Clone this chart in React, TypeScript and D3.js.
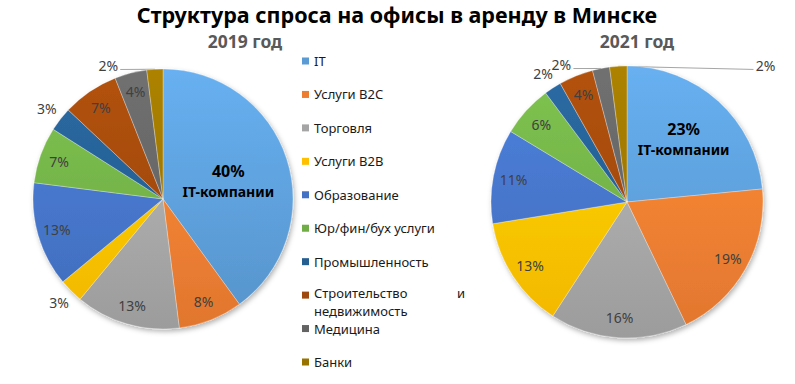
import * as d3 from "d3";

const categories = [
  "IT",
  "Услуги B2C",
  "Торговля",
  "Услуги B2B",
  "Образование",
  "Юр/фин/бух услуги",
  "Промышленность",
  "Строительство и недвижимость",
  "Медицина",
  "Банки",
];
const share2019 = [40, 8, 13, 3, 13, 7, 3, 7, 4, 2];
const share2021 = [23, 19, 16, 13, 11, 6, 2, 4, 2, 2];
const colors = [
  "#5B9BD5", "#ED7D31", "#A5A5A5", "#FFC000", "#4472C4",
  "#70AD47", "#255E91", "#9E480E", "#636363", "#997300",
];

const W = 795;
const H = 384;
const FONT = "'Noto Sans', 'Open Sans', sans-serif";

type LabelMode = "main" | "in" | "out" | "lead";
type PieCfg = {
  id: string;
  year: string;
  values: number[];
  cx: number;
  cy: number;
  r: number;
  modes: LabelMode[];
  mainR: number;
  mainAngle?: number;
  // for leader labels: [angle deg, radius factor]
  lead: Record<number, [number, number]>;
  titleX: number;
};

const pies: PieCfg[] = [
  {
    id: "a",
    year: "2019 год",
    values: share2019,
    cx: 163,
    cy: 199,
    r: 130,
    modes: ["main", "in", "in", "out", "in", "in", "out", "in", "in", "lead"],
    mainR: 0.52,
    mainAngle: 75,
    lead: { 9: [337.7, 1.11] },
    titleX: 245,
  },
  {
    id: "b",
    year: "2021 год",
    values: share2021,
    cx: 627,
    cy: 202,
    r: 136,
    modes: ["main", "in", "in", "in", "in", "in", "out", "in", "lead", "lead"],
    mainR: 0.62,
    lead: { 8: [334.5, 1.12], 9: [45.4, 1.43] },
    titleX: 637,
  },
];

const polar = (cx: number, cy: number, deg: number, rad: number): [number, number] => {
  const a = (deg * Math.PI) / 180;
  return [cx + rad * Math.sin(a), cy - rad * Math.cos(a)];
};

function Pie({ cfg }: { cfg: PieCfg }) {
  const arcs = d3.pie<number>().sort(null)(cfg.values);
  const arc = d3.arc<d3.PieArcDatum<number>>().innerRadius(0).outerRadius(cfg.r);
  const deg = (a: number) => (a * 180) / Math.PI;

  return (
    <g>
      <defs>
        {colors.map((c, i) => {
          const top = d3.color(c)!.brighter(0.35).formatHex();
          const bot = d3.color(c)!.darker(0.15).formatHex();
          return (
            <linearGradient
              key={i}
              id={`grad-${cfg.id}-${i}`}
              gradientUnits="userSpaceOnUse"
              x1={0}
              y1={-cfg.r}
              x2={0}
              y2={cfg.r}
            >
              <stop offset="0" stopColor={top} />
              <stop offset="1" stopColor={bot} />
            </linearGradient>
          );
        })}
      </defs>
      <text
        x={cfg.titleX}
        y={40.5}
        textAnchor="middle"
        dominantBaseline="central"
        fontFamily={FONT}
        fontWeight="bold"
        fontSize={17.5}
        fill="#595959"
      >
        {cfg.year}
      </text>
      {/* leader lines, under the slices */}
      {arcs.map((a, i) => {
        if (cfg.modes[i] !== "lead") return null;
        const mid = deg((a.startAngle + a.endAngle) / 2);
        const [ang, f] = cfg.lead[i];
        const [lx, ly] = polar(cfg.cx, cfg.cy, ang, f * cfg.r);
        const [px, py] = polar(cfg.cx, cfg.cy, mid, cfg.r);
        const ex = lx < px ? lx + 12 : lx - 12;
        return (
          <line key={i} x1={ex} y1={ly + 4} x2={px} y2={py} stroke="#a6a6a6" strokeWidth={1} />
        );
      })}
      <g filter="url(#shadow)">
        <g transform={`translate(${cfg.cx},${cfg.cy})`}>
          {arcs.map((a, i) => (
            <path
              key={i}
              d={arc(a) ?? ""}
              fill={`url(#grad-${cfg.id}-${i})`}
              stroke="#ffffff"
              strokeWidth={0.3}
            />
          ))}
        </g>
      </g>
      {arcs.map((a, i) => {
        const mode = cfg.modes[i];
        const mid = deg((a.startAngle + a.endAngle) / 2);
        const txt = `${a.data}%`;
        if (mode === "main") {
          const [x, y] = polar(cfg.cx, cfg.cy, cfg.mainAngle ?? mid, cfg.mainR * cfg.r);
          return (
            <g key={i} fontFamily={FONT} fontWeight="bold" fill="#000">
              <text x={x} y={y - 11} textAnchor="middle" dominantBaseline="central" fontSize={16}>
                {txt}
              </text>
              <text x={x} y={y + 10} textAnchor="middle" dominantBaseline="central" fontSize={14}>
                IT-компании
              </text>
            </g>
          );
        }
        let x: number, y: number;
        if (mode === "in") [x, y] = polar(cfg.cx, cfg.cy, mid, 0.85 * cfg.r);
        else if (mode === "out") [x, y] = polar(cfg.cx, cfg.cy, mid, 1.13 * cfg.r);
        else [x, y] = polar(cfg.cx, cfg.cy, cfg.lead[i][0], cfg.lead[i][1] * cfg.r);
        return (
          <text
            key={i}
            x={x}
            y={y}
            textAnchor="middle"
            dominantBaseline="central"
            fontFamily={FONT}
            fontSize={14}
            fill="#404040"
          >
            {txt}
          </text>
        );
      })}
    </g>
  );
}

const legendY = d3.scalePoint<number>().domain(d3.range(categories.length)).range([61, 362]);

export default function App() {
  return (
    <svg
      width={W}
      height={H}
      style={{ position: "absolute", left: 0, top: 0, background: "#fff" }}
    >
      <defs>
        <filter id="shadow" x="-20%" y="-20%" width="140%" height="140%">
          <feDropShadow dx={1.5} dy={2.5} stdDeviation={2.5} floodColor="#000" floodOpacity={0.3} />
        </filter>
      </defs>
      <text
        x={397}
        y={14.5}
        textAnchor="middle"
        dominantBaseline="central"
        fontFamily={FONT}
        fontWeight="bold"
        fontSize={21.5}
        fill="#000"
      >
        Структура спроса на офисы в аренду в Минске
      </text>
      {pies.map((p) => (
        <Pie key={p.id} cfg={p} />
      ))}
      <g fontFamily={FONT} fontSize={13} fill="#1a1a1a">
        {categories.map((c, i) => {
          const y = legendY(i)!;
          const two = i === 7;
          return (
            <g key={c}>
              <rect x={302} y={y - 3.5} width={7} height={7} fill={colors[i]} />
              {two ? (
                <>
                  <text x={314} y={y - 2} dominantBaseline="central">Строительство</text>
                  <text x={457} y={y - 2} dominantBaseline="central">и</text>
                  <text x={314} y={y + 15.5} dominantBaseline="central">недвижимость</text>
                </>
              ) : (
                <text x={314} y={y} dominantBaseline="central">{c}</text>
              )}
            </g>
          );
        })}
      </g>
    </svg>
  );
}
